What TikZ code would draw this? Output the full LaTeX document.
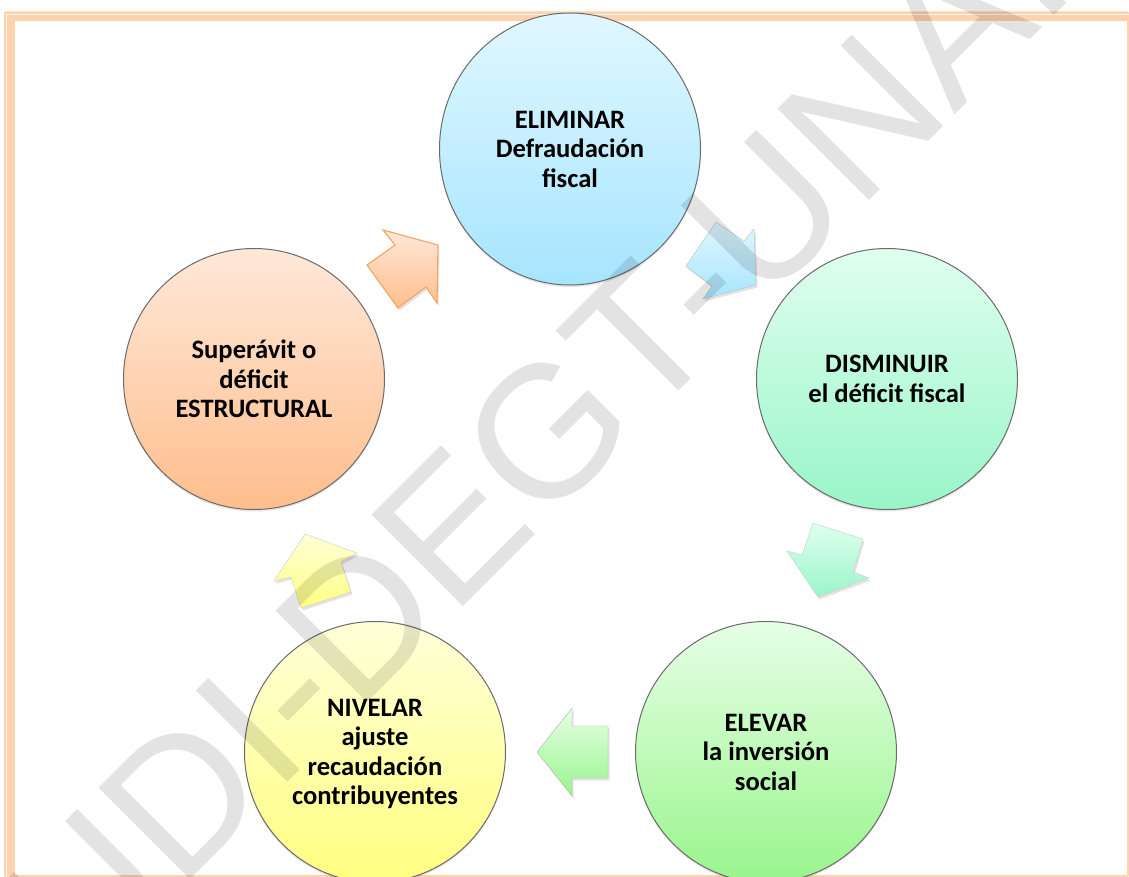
\documentclass[tikz,border=0pt]{standalone}
\usepackage{fontspec}
\setmainfont{Carlito}
\newfontfamily\wmfont{Liberation Sans}
\usetikzlibrary{shadows,shapes.geometric}
\definecolor{bandc}{HTML}{FDD2AC}
\definecolor{blueA}{HTML}{E0F7FF}\definecolor{blueB}{HTML}{A6E5FF}
\definecolor{mintA}{HTML}{E0FFEF}\definecolor{mintB}{HTML}{99F5C8}
\definecolor{greenA}{HTML}{E6FFE6}\definecolor{greenB}{HTML}{99F58C}
\definecolor{yellowA}{HTML}{FFFFD9}\definecolor{yellowB}{HTML}{FFFF80}
\definecolor{orangeA}{HTML}{FFE8D9}\definecolor{orangeB}{HTML}{FFBE8C}
\definecolor{arrowline}{HTML}{F4A460}
\tikzset{
  x=1pt,y=-1pt,
  stage/.style n args={2}{ellipse,minimum width=261pt,minimum height=261pt,inner sep=0pt,align=center,draw=black!58!white,line width=1pt,
    top color=#1,bottom color=#2,font=\fontsize{26.6}{29.5}\selectfont\bfseries,text=black,
    drop shadow={shadow xshift=0pt,shadow yshift=-2pt,opacity=.2}},
  blockarrow/.style n args={3}{draw=#3,line width=.4pt,top color=#1,bottom color=#2,line join=miter,
    drop shadow={shadow xshift=1.5pt,shadow yshift=-2.5pt,opacity=.22}},
}
\begin{document}
\begin{tikzpicture}
\useasboundingbox (0,0) rectangle (1129,877);
\clip (0,0) rectangle (1129,877);
\fill[white] (0,0) rectangle (1129,877);
% frame
\fill[bandc,rounded corners=2pt] (4,11.5) rectangle (1129,877);
\fill[white] (15,21) rectangle (1127,875);
\draw[white,opacity=.85,line width=1.1pt] (6.3,877) -- (6.3,14.5) -- (1129,14.5);
% circles
\node[stage={blueA}{blueB},minimum height=272pt] (elim) at (570,149) {ELIMINAR\\Defraudación\\fiscal};
\node[stage={mintA}{mintB}] (dism) at (887,379) {DISMINUIR\\el déficit fiscal};
\node[stage={greenA}{greenB}] (elev) at (766,752) {ELEVAR\\la inversión\\social};
\node[stage={yellowA}{yellowB}] (nive) at (375,752) {\rule{0pt}{21pt}NIVELAR\\ajuste\\recaudación\\contribuyentes};
\node[stage={orangeA}{orangeB}] (supe) at (254,379) {Superávit o\\déficit\\ESTRUCTURAL};
% block arrows
\path[blockarrow={blueA}{blueB}{black!25!white}] (716,222) -- (744,241) -- (754,229) -- (756,285) -- (703,299) -- (712,286) -- (686,266) -- cycle;
\path[blockarrow={mintA}{mintB}{black!20!white}] (813,523) -- (863,539) -- (853,572) -- (869,578) -- (818,597) -- (787,551) -- (802,555) -- cycle;
\path[blockarrow={greenA}{greenB}{black!30!white}] (572,708) -- (572,726) -- (608,726) -- (608,778) -- (572,778) -- (572,796) -- (537,752) -- cycle;
\path[blockarrow={yellowA}{yellowB}{black!20!white}] (305,534) -- (357,553) -- (341,562) -- (351,592) -- (301,608) -- (291,577) -- (274,581) -- cycle;
\path[blockarrow={orangeA}{orangeB}{arrowline},line width=1.1pt] (383,230) -- (438,245) -- (437,303) -- (426,287) -- (398,308) -- (367,265) -- (395,245) -- cycle;
% watermark
\node[rotate=45,opacity=.11,text=black,font=\fontsize{188}{188}\selectfont\wmfont,anchor=base west,inner sep=0pt] (wm) at (83,987) {UDI-DEGT-UNAH};
\end{tikzpicture}
\end{document}
